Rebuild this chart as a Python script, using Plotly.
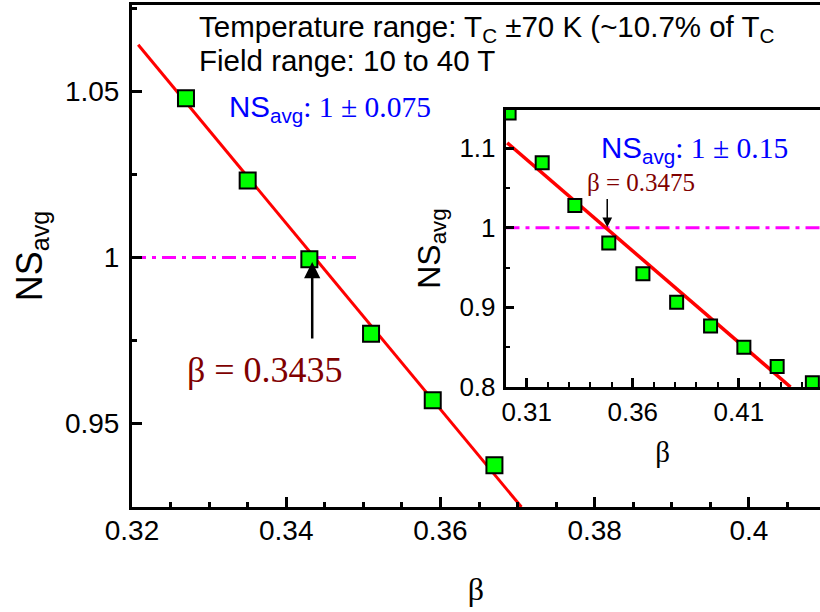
import plotly.graph_objects as go

# ---------------- data ----------------
beta_main = [0.327, 0.335, 0.343, 0.351, 0.359, 0.367]
ns_main = [1.048, 1.0232, 0.9995, 0.977, 0.957, 0.9374]
fit_main_beta = [0.3208, 0.3705]
fit_main_ns = [1.0641, 0.9248]
ref_main_beta = [0.32, 0.3494]
ref_main_ns = [1.0, 1.0]

beta_inset = [0.3017, 0.3173, 0.3327, 0.3487, 0.3648, 0.3807, 0.3967, 0.4124, 0.4281, 0.4447]
ns_inset = [1.144, 1.0814, 1.0277, 0.9807, 0.9421, 0.9065, 0.8767, 0.850, 0.8256, 0.8054]
fit_inset_beta = [0.3008, 0.4344]
fit_inset_ns = [1.1065, 0.8]
ref_inset_beta = [0.30, 0.4483]
ref_inset_ns = [1.0, 1.0]

beta_c_main = 0.3435
beta_c_inset = 0.3475

# ---------------- layout helpers ----------------
W, H = 820, 612
ML, MR, MT, MB = 132, 0, 5, 105
PW, PH = W - ML - MR, H - MT - MB


def px(xp):
    return (xp - ML) / PW


def py(yp):
    return (H - MB - yp) / PH


SANS = "Liberation Sans, Arial, sans-serif"
SERIF = "Liberation Serif, Times New Roman, serif"
DARKRED = "#800000"
DASHDOT = "14px,6px,4px,6px"

fig = go.Figure()

# main traces
fig.add_trace(go.Scatter(x=ref_main_beta, y=ref_main_ns, mode="lines",
                         line=dict(color="#FF00FF", width=3, dash=DASHDOT),
                         showlegend=False, xaxis="x", yaxis="y"))
fig.add_trace(go.Scatter(x=fit_main_beta, y=fit_main_ns, mode="lines",
                         line=dict(color="#FF0000", width=3),
                         showlegend=False, xaxis="x", yaxis="y"))
fig.add_trace(go.Scatter(x=beta_main, y=ns_main, mode="markers",
                         marker=dict(symbol="square", size=16, color="#00FF00",
                                     line=dict(color="black", width=2)),
                         showlegend=False, xaxis="x", yaxis="y"))

# inset traces
fig.add_trace(go.Scatter(x=ref_inset_beta, y=ref_inset_ns, mode="lines",
                         line=dict(color="#FF00FF", width=3, dash=DASHDOT),
                         showlegend=False, xaxis="x2", yaxis="y2"))
fig.add_trace(go.Scatter(x=fit_inset_beta, y=fit_inset_ns, mode="lines",
                         line=dict(color="#FF0000", width=3.5),
                         showlegend=False, xaxis="x2", yaxis="y2"))
fig.add_trace(go.Scatter(x=beta_inset, y=ns_inset, mode="markers",
                         marker=dict(symbol="square", size=13, color="#00FF00",
                                     line=dict(color="black", width=2)),
                         showlegend=False, xaxis="x2", yaxis="y2"))

fig.update_layout(
    width=W, height=H,
    margin=dict(l=ML, r=MR, t=MT, b=MB, autoexpand=False),
    paper_bgcolor="white", plot_bgcolor="white",
    font=dict(family=SANS, color="black"),
    xaxis=dict(showgrid=False, zeroline=False, showline=True, linecolor="black",
               domain=[0, 1], range=[0.32, 0.40922],
               ticks="inside", tickcolor="black", ticklen=10, tickwidth=3,
               tickmode="linear", tick0=0.32, dtick=0.02,
               linewidth=3, mirror=True,
               minor=dict(ticks="inside", dtick=0.005, ticklen=5, tickwidth=2.5, tickcolor="black"),
               tickfont=dict(family=SANS, size=28, color="black"), ticklabelstandoff=-4,
               title=dict(text="β", font=dict(family=SERIF, size=32, color="black"), standoff=34)),
    yaxis=dict(showgrid=False, zeroline=False, showline=True, linecolor="black",
               domain=[0, 1], range=[0.9248, 1.0761],
               ticks="inside", tickcolor="black", ticklen=10, tickwidth=3,
               tickmode="linear", tick0=0.95, dtick=0.05,
               linewidth=3,
               minor=dict(ticks="inside", dtick=0.025, ticklen=5, tickwidth=2.5, tickcolor="black"),
               tickfont=dict(family=SANS, size=28, color="black"), ticklabelstandoff=4,
               title=dict(text="NS<sub>avg</sub>", font=dict(family=SANS, size=36, color="black"), standoff=12)),
    xaxis2=dict(showgrid=False, zeroline=False, showline=True, linecolor="black",
                anchor="y2", domain=[px(505.5), 1], range=[0.30, 0.4483],
                ticks="inside", tickcolor="black", ticklen=9, tickwidth=2.5,
                tickmode="linear", tick0=0.31, dtick=0.05,
                linewidth=2.5, mirror=True,
                minor=dict(ticks="inside", dtick=0.01, ticklen=5, tickwidth=2, tickcolor="black"),
                tickfont=dict(family=SANS, size=26, color="black"),
                title=dict(text="β", font=dict(family=SERIF, size=29, color="black"), standoff=16)),
    yaxis2=dict(showgrid=False, zeroline=False, showline=True, linecolor="black",
                anchor="x2", domain=[py(387), py(110)], range=[0.8, 1.1477],
                ticks="inside", tickcolor="black", ticklen=9, tickwidth=2.5,
                tickmode="linear", tick0=0.8, dtick=0.1,
                linewidth=2.5,
                minor=dict(ticks="inside", dtick=0.05, ticklen=5, tickwidth=2, tickcolor="black"),
                tickfont=dict(family=SANS, size=26, color="black"), ticklabelstandoff=2,
                title=dict(text="NS<sub>avg</sub>", font=dict(family=SANS, size=32, color="black"), standoff=10)),
)

annotations = [
    dict(text="Temperature range: T<sub>C</sub> ±70 K (~10.7% of T<sub>C</sub>",
         xref="paper", yref="paper", x=px(197), y=py(29), xanchor="left", yanchor="middle",
         showarrow=False, font=dict(family=SANS, size=29.5, color="black")),
    dict(text="Field range: 10 to 40 T",
         xref="paper", yref="paper", x=px(197), y=py(60), xanchor="left", yanchor="middle",
         showarrow=False, font=dict(family=SANS, size=29.5, color="black")),
    dict(text="NS<sub>avg</sub><span style=\"font-family:Liberation Serif\">: 1 ± 0.075</span>",
         xref="paper", yref="paper", x=px(227), y=py(108), xanchor="left", yanchor="middle",
         showarrow=False, font=dict(family=SANS, size=29.5, color="#0000FF")),
    dict(text="NS<sub>avg</sub><span style=\"font-family:Liberation Serif\">: 1 ± 0.15</span>",
         xref="paper", yref="paper", x=px(599), y=py(150), xanchor="left", yanchor="middle",
         showarrow=False, font=dict(family=SANS, size=29.5, color="#0000FF")),
    dict(text=f"β = {beta_c_main}", xref="x", yref="y", x=0.3373, y=0.9661,
         xanchor="center", yanchor="middle", showarrow=False,
         font=dict(family=SERIF, size=36, color=DARKRED)),
    dict(text=f"β = {beta_c_inset}", xref="x2", yref="y2", x=0.3637, y=1.0569,
         xanchor="center", yanchor="middle", showarrow=False,
         font=dict(family=SERIF, size=25, color=DARKRED)),
    dict(text="", xref="x", yref="y", x=0.34337, y=0.99864,
         axref="x", ayref="y", ax=0.34337, ay=0.97512, showarrow=True,
         arrowhead=2, arrowsize=1.3, arrowwidth=2.5, arrowcolor="black"),
    dict(text="", xref="x2", yref="y2", x=0.34797, y=1.0004,
         axref="x2", ayref="y2", ax=0.34797, ay=1.038, showarrow=True,
         arrowhead=2, arrowsize=1.3, arrowwidth=1.5, arrowcolor="black"),
]
fig.update_layout(annotations=annotations)

fig.write_html("out.html")
